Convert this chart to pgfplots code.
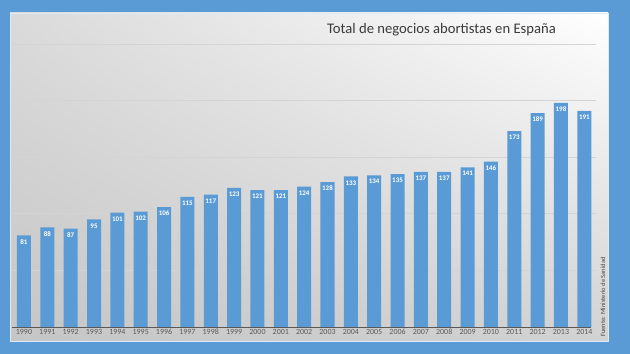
\documentclass[border=0pt]{standalone}
\usepackage{pgfplots}
\pgfplotsset{compat=1.18}
\usetikzlibrary{shadings}
\usepackage{fontspec}
\setmainfont{Carlito}
\definecolor{bgblue}{HTML}{5B9BD5}
\definecolor{barblue}{HTML}{5B9BD5}
\definecolor{gridgray}{HTML}{D4D4D4}
\definecolor{axisgray}{HTML}{595959}
\definecolor{titlegray}{HTML}{3A3A3A}
\definecolor{shUL}{HTML}{DADADA}
\definecolor{shLL}{HTML}{C6C6C6}
\definecolor{shLR}{HTML}{D2D2D2}
\begin{document}
\begin{tikzpicture}
\fill[bgblue] (0bp,0bp) rectangle (630bp,354bp);
\shade[upper left=shUL, upper right=white, lower left=shLL, lower right=shLR]
  (10bp,13bp) rectangle (608bp,341bp);
\draw[white!80!bgblue, line width=0.6bp] (10bp,13bp) rectangle (608bp,341bp);
\begin{axis}[
  at={(12.3bp,27bp)}, anchor=south west,
  scale only axis, width=583.7bp, height=283bp,
  xmin=-0.5, xmax=24.5, ymin=0, ymax=250,
  /pgf/number format/assume math mode=true,
  axis line style={draw=none},
  tick style={draw=none},
  ytick={50,100,150,200,250}, yticklabels={},
  ymajorgrids, grid style={color=gridgray, line width=0.7bp},
  xtick=data,
  xticklabels={1990,1991,1992,1993,1994,1995,1996,1997,1998,1999,2000,2001,2002,2003,2004,2005,2006,2007,2008,2009,2010,2011,2012,2013,2014},
  xticklabel style={font=\fontsize{8}{9}\selectfont, text=axisgray, yshift=1bp},
  clip=false,
]
\addplot[ybar, fill=barblue, draw=none, bar width=0.6,
  nodes near coords,
  every node near coord/.append style={font=\bfseries\fontsize{7}{8}\selectfont, text=white, anchor=north, yshift=-0.5bp}]
coordinates {
(0,81) (1,88) (2,87) (3,95) (4,101) (5,102) (6,106) (7,115) (8,117) (9,123)
(10,121) (11,121) (12,124) (13,128) (14,133) (15,134) (16,135) (17,137) (18,137) (19,141)
(20,146) (21,173) (22,189) (23,198) (24,191)
};
\draw[axisgray, line width=1bp] (axis cs:-0.5,0) -- (axis cs:24.3,0);
\end{axis}
\node[font=\fontsize{14.7}{16}\selectfont, text=titlegray] at (441.5bp,324bp) {Total de negocios abortistas en España};
\node[font=\fontsize{6.5}{7}\selectfont, text=axisgray!80!black, rotate=90] at (603bp,57bp) {Fuente: Ministerio de Sanidad};
\end{tikzpicture}
\end{document}
